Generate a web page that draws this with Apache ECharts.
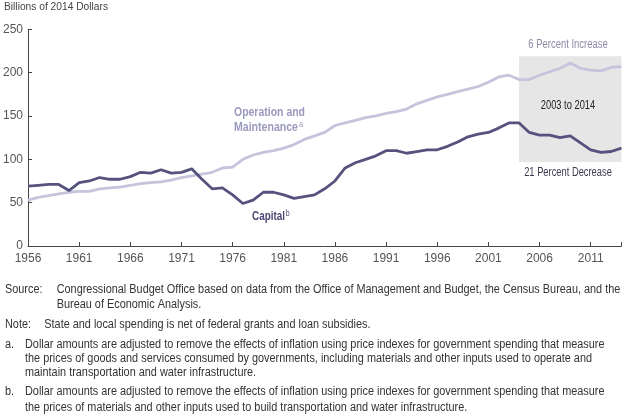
<!DOCTYPE html>
<html><head><meta charset="utf-8">
<script src="https://cdn.jsdelivr.net/npm/echarts@6/dist/echarts.min.js"></script>
<style>html,body{margin:0;padding:0;background:#fff}#c{width:628px;height:416px}</style>
</head><body><div id="c"></div>
<script>
const years = [];
for (let y = 1956; y <= 2014; y++) years.push(y);
const capital = [69,70,71,71,64,73,75,79,77,77,80,85,84,88,84,85,89,77,66,67,59,49,53,62,62,59,55,57,59,66,75,90,96,100,104,110,110,107,109,111,111,115,120,126,129,131,136,142,142,131,128,128,125,127,119,111,108,109,113];
const operation = [53,56,58,60,62,63,63,66,67,68,70,72,73,74,76,79,81,83,85,90,91,100,105,108,110,113,117,123,127,131,139,142,145,148,150,153,155,158,164,168,172,175,178,181,184,189,195,197,192,192,197,201,205,211,205,203,202,206,207];
const xTickLabels = [1956,1961,1966,1971,1976,1981,1986,1991,1996,2001,2006,2011];
const xTicks = xTickLabels.concat([2014]);
const boxYears = [2004, 2014];
const boxValues = [97, 219];

const F = "'Liberation Sans',Arial,sans-serif";
const FS = 12.5;
const mctx = document.createElement('canvas').getContext('2d');
function measure(text, size, weight) {
  mctx.font = (weight || 'normal') + ' ' + size + 'px ' + F;
  return mctx.measureText(text).width;
}
// horizontal squeeze so the text occupies the same width as in the reference (condensed typeface)
const footScale = 563.6 / measure('Congressional Budget Office based on data from the Office of Management and Budget, the Census Bureau, and the', FS);

function txt(x, y, text, opt, sx) {
  return {type:'text', x:x, y:y, silent:true, z:100, scaleX: sx == null ? footScale : sx,
    style: Object.assign({text:text, fontFamily:F, fontSize:FS, fill:'#333', textVerticalAlign:'middle'}, opt||{})};
}
function fit(x, y, text, target, opt) {
  const o = Object.assign({fontSize:12}, opt||{});
  return txt(x, y, text, o, target / measure(text, o.fontSize, o.fontWeight));
}

const opCol = '#9a9abf', capCol = '#4a4775';
const texts = [
  fit(4, 6.7, 'Billions of 2014 Dollars', 104, {fontSize:11, fill:'#444'}),
  txt(5, 289.3, 'Source:'),
  txt(56.7, 289.3, 'Congressional Budget Office based on data from the Office of Management and Budget, the Census Bureau, and the'),
  txt(56.7, 305, 'Bureau of Economic Analysis.'),
  txt(5, 324.3, 'Note:'),
  txt(44.3, 324.3, 'State and local spending is net of federal grants and loan subsidies.'),
  txt(5, 344.3, 'a.'),
  txt(25, 344.3, 'Dollar amounts are adjusted to remove the effects of inflation using price indexes for government spending that measure'),
  txt(25, 358.7, 'the prices of goods and services consumed by governments, including materials and other inputs used to operate and'),
  txt(25, 373, 'maintain transportation and water infrastructure.'),
  txt(5, 392, 'b.'),
  txt(25, 392, 'Dollar amounts are adjusted to remove the effects of inflation using price indexes for government spending that measure'),
  txt(25, 407.7, 'the prices of materials and other inputs used to build transportation and water infrastructure.'),
  fit(234, 112.7, 'Operation and', 71, {fontWeight:'bold', fill:opCol}),
  {type:'text', x:234, y:127.7, silent:true, z:100, scaleX: 64 / measure('Maintenance', 12, 'bold'),
    style:{text:'{m|Maintenance}{s|a}', textVerticalAlign:'middle',
    rich:{m:{fontFamily:F, fontSize:12, fontWeight:'bold', fill:opCol}, s:{fontFamily:F, fontSize:8.5, fill:opCol, verticalAlign:'top', padding:[0,0,6,1]}}}},
  {type:'text', x:252, y:217, silent:true, z:100, scaleX: 33 / measure('Capital', 12, 'bold'),
    style:{text:'{m|Capital}{s|b}', textVerticalAlign:'middle',
    rich:{m:{fontFamily:F, fontSize:12, fontWeight:'bold', fill:capCol}, s:{fontFamily:F, fontSize:8.5, fill:capCol, verticalAlign:'top', padding:[0,0,6,1]}}}},
  fit(568, 45, '6 Percent Increase', 79.4, {fontSize:12, fill:'#8c8ca8', textAlign:'center'}),
  fit(568, 105.3, '2003 to 2014', 54.3, {fontSize:12, fill:'#222', textAlign:'center'}),
  fit(568, 173, '21 Percent Decrease', 87.7, {fontSize:12, fill:'#3a3a50', textAlign:'center'})
];

const chart = echarts.init(document.getElementById('c'), null, {renderer:'canvas'});
chart.setOption({
  animation:false,
  grid:{left:27, right:6.6, top:29.3, bottom:170, containLabel:false},
  xAxis:{type:'value', min:years[0], max:years[years.length-1],
    axisLine:{lineStyle:{color:'#444', width:1}},
    axisTick:{inside:true, length:4, customValues:xTicks, lineStyle:{color:'#444'}},
    axisLabel:{customValues:xTickLabels, margin:7, fontFamily:F, fontSize:12, color:'#555', formatter:v=>String(v)},
    splitLine:{show:false}},
  yAxis:{type:'value', min:0, max:250, interval:50,
    axisLine:{show:true, lineStyle:{color:'#444', width:1}},
    axisTick:{show:true, inside:true, length:4, lineStyle:{color:'#444'}},
    axisLabel:{margin:5, fontFamily:F, fontSize:12, color:'#555'},
    splitLine:{show:false}},
  series:[
    {type:'line', name:'Operation and Maintenance', data:years.map((y,i)=>[y, operation[i]]), showSymbol:false,
      lineStyle:{color:'#c4c4dc', width:2.8}, z:3,
      markArea:{silent:true, itemStyle:{color:'#e6e6e6'},
        data:[[{xAxis:boxYears[0], yAxis:boxValues[0]},{xAxis:boxYears[1], yAxis:boxValues[1]}]]}},
    {type:'line', name:'Capital', data:years.map((y,i)=>[y, capital[i]]), showSymbol:false,
      lineStyle:{color:'#55527e', width:2.8}, z:4}
  ],
  graphic:{elements:texts}
});
</script></body></html>
